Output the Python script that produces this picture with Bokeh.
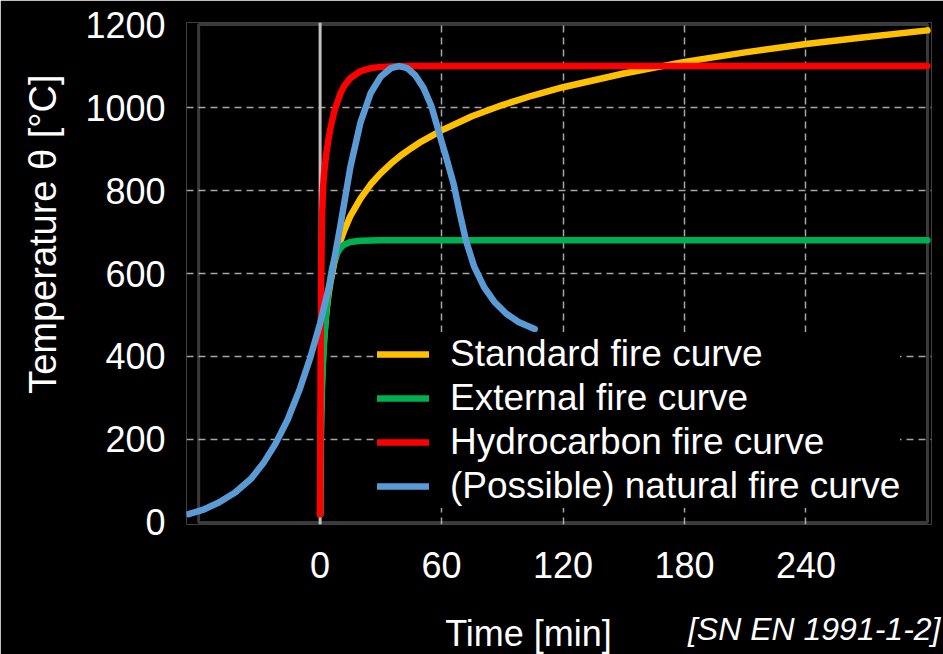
from bokeh.plotting import figure
from bokeh.models import Range1d, FixedTicker, Span, BoxAnnotation, Label, Title
from bokeh.embed import file_html
from bokeh.resources import INLINE

FONT = "Liberation Sans"

# Fire curves: time [min] and gas temperature [°C]
standard_t = [0, 0.25, 0.5, 1, 1.5, 2, 3, 4, 5, 7, 10, 12, 15, 20, 25, 30, 35, 40, 45, 50, 60,
              75, 90, 105, 120, 150, 180, 210, 240, 270, 300]
standard_temp = [20, 185, 261, 349, 404, 445, 502, 544, 576, 626, 678, 705, 739, 781, 815, 842,
                 865, 885, 902, 918, 945, 979, 1006, 1029, 1049, 1082, 1110, 1133, 1153, 1170,
                 1186]

external_t = [0, 0.5, 1, 2, 3, 4, 5, 6, 7, 8, 10, 12, 15, 20, 30, 300]
external_temp = [20, 263, 346, 441, 506, 554, 588, 614, 632, 645, 661, 670, 676, 679, 680, 680]

hydrocarbon_t = [0, 0.25, 0.5, 0.75, 1, 1.5, 2, 3, 4, 5, 7, 10, 12, 15, 20, 25, 30, 40, 300]
hydrocarbon_temp = [20, 373, 568, 679, 743, 810, 844, 887, 920, 948, 991, 1034, 1053, 1071,
                    1088, 1095, 1098, 1100, 1100]

natural_t = [-65, -58, -50, -42, -34, -28, -22, -16, -10, -5, 0, 5, 10, 15, 20, 25, 30, 35, 39,
             43, 47, 51, 55, 58, 60, 62, 64, 66, 69, 72, 76, 81, 86, 92, 98, 106]
natural_temp = [20, 30, 48, 72, 106, 143, 190, 248, 322, 395, 480, 580, 715, 858, 965, 1035,
                1075, 1095, 1100, 1095, 1078, 1048, 1003, 952, 918, 885, 850, 815, 745, 680,
                618, 567, 532, 503, 483, 466]

x_ticks = [0, 60, 120, 180, 240]
y_ticks = [0, 200, 400, 600, 800, 1000, 1200]
x_grid = [60, 120, 180, 240]
y_grid = [200, 400, 600, 800, 1000]

series = [
    ("Standard fire curve", standard_t, standard_temp, "#FFC000"),
    ("External fire curve", external_t, external_temp, "#00B050"),
    ("Hydrocarbon fire curve", hydrocarbon_t, hydrocarbon_temp, "#FF0000"),
    ("(Possible) natural fire curve", natural_t, natural_temp, "#5B9BD5"),
]

p = figure(
    frame_width=745, frame_height=502,
    x_range=Range1d(-66, 302), y_range=Range1d(-5, 1205),
    output_backend="svg", toolbar_location=None,
    background_fill_color="black", border_fill_color="black",
    min_border_left=186, min_border_right=12, min_border_top=22, min_border_bottom=130,
)
p.outline_line_color = None

# grid
p.xgrid.ticker = FixedTicker(ticks=x_grid)
p.ygrid.ticker = FixedTicker(ticks=y_grid)
for g in (p.xgrid, p.ygrid):
    g.grid_line_color = "#A6A6A6"
    g.grid_line_width = 1.5
    g.grid_line_dash = "7 5"

# plot frame and the t = 0 line
p.add_layout(BoxAnnotation(left=-60, right=300, bottom=0, top=1200, fill_alpha=0,
                           line_color="#C0C0C0", line_width=3, level="underlay"))
p.add_layout(Span(location=0, dimension="height", line_color="#C0C0C0", line_width=3,
                  level="underlay"))

# axes
for ax, ticks in ((p.xaxis[0], x_ticks), (p.yaxis[0], y_ticks)):
    ax.ticker = FixedTicker(ticks=ticks)
    ax.axis_line_color = None
    ax.major_tick_line_color = None
    ax.minor_tick_line_color = None
    ax.major_tick_out = 0
    ax.major_tick_in = 0
    ax.major_label_text_color = "white"
    ax.major_label_text_font = FONT
    ax.major_label_text_font_size = "36px"
p.xaxis.major_label_standoff = 27
p.yaxis.major_label_standoff = 21

# curves
for name, t, temp, color in series:
    p.line(t, temp, line_color=color, line_width=6.5, line_cap="round", line_join="round",
           legend_label=name)

leg = p.legend[0]
leg.location = (191, 16)
leg.background_fill_color = "black"
leg.background_fill_alpha = 1
leg.border_line_color = None
leg.padding = 8
leg.margin = 0
leg.spacing = 0
leg.glyph_width = 52
leg.glyph_height = 44
leg.label_height = 44
leg.label_standoff = 21
leg.label_text_color = "white"
leg.label_text_font = FONT
leg.label_text_font_size = "37px"

# axis titles and source note in the side panels
p.add_layout(Title(text="Temperature θ [°C]", align="right", offset=52, standoff=37,
                   text_color="white", text_font=FONT, text_font_size="38px",
                   text_font_style="normal"), "left")
p.add_layout(Label(x=342, y=-12, x_units="screen", y_units="screen", text="Time [min]",
                   text_align="center", text_baseline="alphabetic",
                   text_color="white", text_font=FONT, text_font_size="36px"), "below")
p.add_layout(Title(text="[SN EN 1991-1-2]", align="right", offset=-9, standoff=-25,
                   text_color="white", text_font=FONT, text_font_size="32px",
                   text_font_style="italic"), "below")

open("out.html", "w").write(file_html(p, INLINE))
